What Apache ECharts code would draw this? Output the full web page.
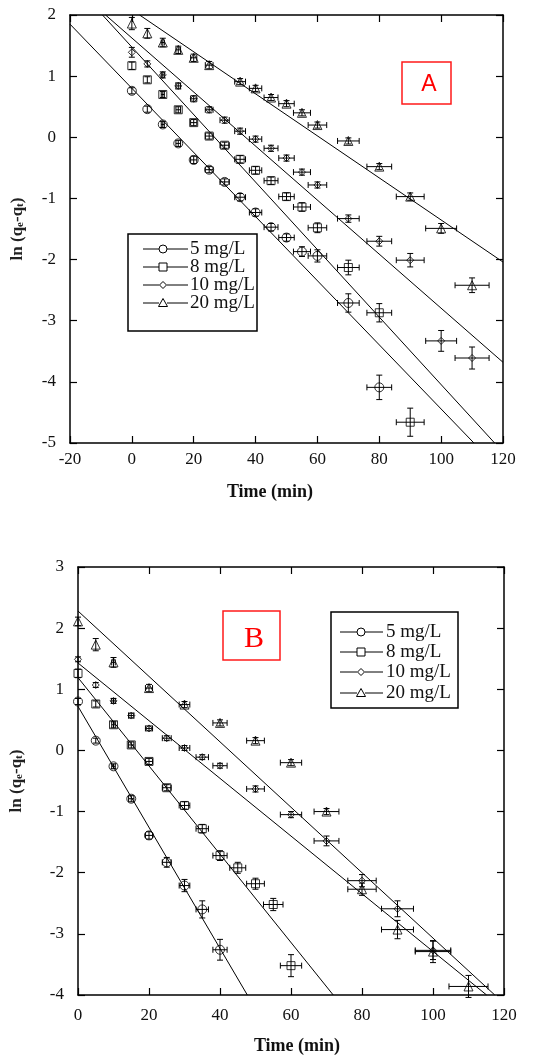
<!DOCTYPE html>
<html><head><meta charset="utf-8">
<script src="https://cdn.jsdelivr.net/npm/echarts@6/dist/echarts.min.js"></script>
<style>html,body{margin:0;padding:0;background:#fff}#c{width:545px;height:1056px}</style>
</head><body><div id="c"></div>
<script>
// ===== Panel A data (time in min, ln(qe-qt)) =====
const aT5  = [0,5,10,15,20,25,30,35,40,45,50,55,60,70,80];
const aY5  = [0.76,0.46,0.21,-0.10,-0.37,-0.53,-0.73,-0.98,-1.23,-1.47,-1.64,-1.87,-1.94,-2.71,-4.09];
const aEx5 = [0,0.25,0.5,0.75,1,1.25,1.5,1.75,2,2.25,2.5,2.75,3,3.5,4];
const aEy5 = [0.05,0.05,0.05,0.05,0.06,0.05,0.05,0.06,0.06,0.06,0.06,0.08,0.1,0.15,0.2];

const aT8  = [0,5,10,15,20,25,30,35,40,45,50,55,60,70,80,90];
const aY8  = [1.17,0.94,0.70,0.45,0.24,0.02,-0.13,-0.36,-0.54,-0.71,-0.97,-1.14,-1.48,-2.13,-2.87,-4.66];
const aEx8 = [0,0.25,0.5,0.75,1,1.25,1.5,1.75,2,2.25,2.5,2.75,3,3.5,4,4.5];
const aEy8 = [0.06,0.05,0.05,0.05,0.05,0.05,0.05,0.06,0.06,0.06,0.06,0.07,0.08,0.12,0.15,0.23];

const aT10  = [0,5,10,15,20,25,30,35,40,45,50,55,60,70,80,90,100,110];
const aY10  = [1.39,1.20,1.02,0.84,0.63,0.45,0.28,0.10,-0.03,-0.18,-0.34,-0.57,-0.78,-1.33,-1.70,-2.01,-3.33,-3.61];
const aEx10 = [0,0.25,0.5,0.75,1,1.25,1.5,1.75,2,2.25,2.5,2.75,3,3.5,4,4.5,5,5.5];
const aEy10 = [0.08,0.05,0.05,0.05,0.05,0.05,0.05,0.05,0.05,0.05,0.05,0.05,0.05,0.06,0.08,0.11,0.17,0.18];

const aT20  = [0,5,10,15,20,25,35,40,45,50,55,60,70,80,90,100,110];
const aY20  = [1.86,1.70,1.55,1.43,1.30,1.18,0.91,0.80,0.65,0.55,0.40,0.20,-0.06,-0.48,-0.97,-1.49,-2.42];
const aEx20 = [0,0.25,0.5,0.75,1,1.25,1.75,2,2.25,2.5,2.75,3,3.5,4,4.5,5,5.5];
const aEy20 = [0.1,0.08,0.07,0.06,0.06,0.06,0.05,0.05,0.05,0.05,0.05,0.05,0.05,0.05,0.06,0.08,0.12];

// fitted lines (end points in data units)
const aFit5  = [[-20,1.85],[110.6,-5]];
const aFit8  = [[-9.5,2],[117.3,-5]];
const aFit10 = [[-8.5,2],[120,-3.68]];
const aFit20 = [[2.5,2],[120,-2.04]];

// ===== Panel B data =====
const bT5  = [0,5,10,15,20,25,30,35,40];
const bY5  = [0.80,0.16,-0.26,-0.79,-1.39,-1.83,-2.21,-2.60,-3.26];
const bEx5 = [0,0.25,0.5,0.75,1,1.25,1.5,1.75,2];
const bEy5 = [0.05,0.04,0.04,0.05,0.06,0.08,0.1,0.14,0.17];

const bT8  = [0,5,10,15,20,25,30,35,40,45,50,55,60];
const bY8  = [1.26,0.76,0.42,0.09,-0.18,-0.61,-0.90,-1.28,-1.72,-1.92,-2.18,-2.52,-3.52];
const bEx8 = [0,0.25,0.5,0.75,1,1.25,1.5,1.75,2,2.25,2.5,2.75,3];
const bEy8 = [0.07,0.05,0.05,0.05,0.05,0.05,0.06,0.07,0.08,0.09,0.09,0.1,0.18];

const bT10  = [0,5,10,15,20,25,30,35,40,50,60,70,80,90,100];
const bY10  = [1.49,1.07,0.81,0.57,0.36,0.20,0.04,-0.11,-0.25,-0.63,-1.05,-1.48,-2.13,-2.59,-3.27];
const bEx10 = [0,0.25,0.5,0.75,1,1.25,1.5,1.75,2,2.5,3,3.5,4,4.5,5];
const bEy10 = [0.04,0.04,0.04,0.04,0.04,0.04,0.04,0.04,0.04,0.05,0.05,0.08,0.1,0.13,0.15];

const bT20  = [0,5,10,20,30,40,50,60,70,80,90,100,110];
const bY20  = [2.11,1.73,1.44,1.02,0.75,0.45,0.16,-0.20,-1.00,-2.27,-2.93,-3.29,-3.86];
const bEx20 = [0,0.25,0.5,1,1.5,2,2.5,3,3.5,4,4.5,5,5.5];
const bEy20 = [0.07,0.1,0.08,0.06,0.05,0.05,0.05,0.05,0.05,0.1,0.15,0.18,0.18];

const bFit5  = [[0,0.72],[47.7,-4]];
const bFit8  = [[0,1.19],[71.9,-4]];
const bFit10 = [[0,1.43],[115.1,-4]];
const bFit20 = [[0,2.28],[117.4,-4]];

const legendNames = ['5 mg/L','8 mg/L','10 mg/L','20 mg/L'];
const xTicksA = {min:-20, max:120, interval:20};
const xTicksB = {min:0, max:120, interval:20};
const yTicksA = {min:-5, max:2, interval:1};
const yTicksB = {min:-4, max:3, interval:1};

// ===== styling =====
const SERIF = '"Liberation Serif","Times New Roman",serif';
const INK = '#111';
const symbols = ['circle','rect','diamond','triangle'];
const symSizes = [9,8,7,9];

function renderErr(params, api){
  const t=api.value(0), v=api.value(1), ex=api.value(2), ey=api.value(3);
  const L=api.coord([t-ex,v]), R=api.coord([t+ex,v]);
  const U=api.coord([t,v+ey]), D=api.coord([t,v-ey]);
  const st={stroke:'#000', lineWidth:1};
  const cap=3, ch=[];
  if (R[0]-L[0] > 3){
    ch.push({type:'line',shape:{x1:L[0],y1:L[1],x2:R[0],y2:R[1]},style:st});
    ch.push({type:'line',shape:{x1:L[0],y1:L[1]-cap,x2:L[0],y2:L[1]+cap},style:st});
    ch.push({type:'line',shape:{x1:R[0],y1:R[1]-cap,x2:R[0],y2:R[1]+cap},style:st});
  }
  if (D[1]-U[1] > 3){
    ch.push({type:'line',shape:{x1:U[0],y1:U[1],x2:D[0],y2:D[1]},style:st});
    ch.push({type:'line',shape:{x1:U[0]-cap,y1:U[1],x2:U[0]+cap,y2:U[1]},style:st});
    ch.push({type:'line',shape:{x1:D[0]-cap,y1:D[1],x2:D[0]+cap,y2:D[1]},style:st});
  }
  return {type:'group', children:ch};
}

function groupSeries(ax, k, T, Y, EX, EY, fit){
  return [
    {type:'line', xAxisIndex:ax, yAxisIndex:ax, data:fit, showSymbol:false, silent:true,
     lineStyle:{color:'#000', width:1}, z:2, clip:true},
    {type:'custom', xAxisIndex:ax, yAxisIndex:ax, renderItem:renderErr, silent:true,
     data:T.map((t,i)=>[t,Y[i],EX[i],EY[i]]), encode:{x:0,y:1}, z:3},
    {type:'scatter', xAxisIndex:ax, yAxisIndex:ax, symbol:symbols[k], symbolSize:symSizes[k],
     data:T.map((t,i)=>[t,Y[i]]), silent:true,
     itemStyle:{color:'rgba(255,255,255,0)', borderColor:'#000', borderWidth:1}, z:4}
  ];
}

function xAx(grid, r, pos, labels, margin){
  return {type:'value', gridIndex:grid, position:pos, min:r.min, max:r.max, interval:r.interval,
    axisLine:{show:true, onZero:false, lineStyle:{color:'#000', width:1.5}},
    axisTick:{show:true, inside:true, length:7, lineStyle:{color:'#000', width:1.2}},
    axisLabel:{show:labels, color:INK, fontFamily:SERIF, fontSize:17, margin:margin},
    splitLine:{show:false}};
}
function yAx(grid, r, pos, labels, nameGap){
  const o = {type:'value', gridIndex:grid, position:pos, min:r.min, max:r.max, interval:r.interval,
    axisLine:{show:true, onZero:false, lineStyle:{color:'#000', width:1.5}},
    axisTick:{show:true, inside:true, length:7, lineStyle:{color:'#000', width:1.2}},
    axisLabel:{show:labels, color:INK, fontFamily:SERIF, fontSize:17, margin:14},
    splitLine:{show:false}};
  if (labels){
    o.name = '{a|ln (q}{s|e}{a|-q}{s|t}{a|)}';
    o.nameLocation = 'middle';
    o.nameRotate = 90;
    o.nameGap = nameGap;
    o.nameTextStyle = {rich:{
      a:{fontFamily:SERIF, fontSize:17, fontWeight:'bold', color:'#222'},
      s:{fontFamily:SERIF, fontSize:11, fontWeight:'bold', color:'#222', verticalAlign:'bottom', padding:[5,0,0,0]}
    }};
  }
  return o;
}

function legendGraphic(box, rowsY, lx1, lx2, mx, tx){
  const els = [{type:'rect', shape:{x:box[0], y:box[1], width:box[2], height:box[3]},
    style:{fill:'#fff', stroke:'#000', lineWidth:1.5}, z:50}];
  rowsY.forEach((y,k)=>{
    const r = 4;
    els.push({type:'line', shape:{x1:lx1,y1:y,x2:mx-r,y2:y}, style:{stroke:'#000',lineWidth:1}, z:51});
    els.push({type:'line', shape:{x1:mx+r,y1:y,x2:lx2,y2:y}, style:{stroke:'#000',lineWidth:1}, z:51});
    const ms = {fill:'#fff', stroke:'#000', lineWidth:1};
    if (k===0) els.push({type:'circle', shape:{cx:mx,cy:y,r:r}, style:ms, z:52});
    if (k===1) els.push({type:'rect', shape:{x:mx-r,y:y-r,width:2*r,height:2*r}, style:ms, z:52});
    if (k===2) els.push({type:'polygon', shape:{points:[[mx,y-3.5],[mx+3.5,y],[mx,y+3.5],[mx-3.5,y]]}, style:ms, z:52});
    if (k===3) els.push({type:'polygon', shape:{points:[[mx,y-4.5],[mx+4.5,y+3.5],[mx-4.5,y+3.5]]}, style:ms, z:52});
    els.push({type:'text', x:tx, y:y, style:{text:legendNames[k], fontFamily:SERIF, fontSize:19, fill:'#111',
      textVerticalAlign:'middle', verticalAlign:'middle'}, z:52});
  });
  return els;
}

const chart = echarts.init(document.getElementById('c'), null, {renderer:'canvas'});
const graphics = [].concat(
  legendGraphic([128,234,129,97],[249,267,285,303],143,188,163,190),
  legendGraphic([331,612,127,96],[632,652,672,693],340,383,361,386),
  [
    {type:'rect', shape:{x:402,y:62,width:49,height:42}, style:{fill:'#fff', stroke:'#ff1a1a', lineWidth:1.5}, z:50},
    {type:'text', x:429, y:85, style:{text:'A', fontFamily:'"Liberation Sans",Arial,sans-serif', fontSize:23,
      fill:'#ff0000', align:'center', verticalAlign:'middle'}, z:51},
    {type:'rect', shape:{x:223,y:611,width:57,height:49}, style:{fill:'#fff', stroke:'#ff1a1a', lineWidth:1.5}, z:50},
    {type:'text', x:254, y:639, style:{text:'B', fontFamily:SERIF, fontSize:30,
      fill:'#ff0000', align:'center', verticalAlign:'middle'}, z:51},
    {type:'text', x:270, y:492, style:{text:'Time (min)', fontFamily:SERIF, fontSize:18, fontWeight:'bold',
      fill:'#111', align:'center', verticalAlign:'middle'}, z:51},
    {type:'text', x:297, y:1046, style:{text:'Time (min)', fontFamily:SERIF, fontSize:18, fontWeight:'bold',
      fill:'#111', align:'center', verticalAlign:'middle'}, z:51}
  ]
);

chart.setOption({
  backgroundColor:'#fff',
  animation:false,
  grid:[
    {left:70, top:15, width:433, height:428},
    {left:78, top:567, width:426, height:428}
  ],
  xAxis:[
    xAx(0, xTicksA, 'bottom', true, 8),
    xAx(0, xTicksA, 'top', false, 8),
    xAx(1, xTicksB, 'bottom', true, 12),
    xAx(1, xTicksB, 'top', false, 8)
  ],
  yAxis:[
    yAx(0, yTicksA, 'left', true, 44),
    yAx(0, yTicksA, 'right', false, 0),
    yAx(1, yTicksB, 'left', true, 53),
    yAx(1, yTicksB, 'right', false, 0)
  ],
  series:[].concat(
    groupSeries(0,0,aT5,aY5,aEx5,aEy5,aFit5),
    groupSeries(0,1,aT8,aY8,aEx8,aEy8,aFit8),
    groupSeries(0,2,aT10,aY10,aEx10,aEy10,aFit10),
    groupSeries(0,3,aT20,aY20,aEx20,aEy20,aFit20),
    groupSeries(2,0,bT5,bY5,bEx5,bEy5,bFit5),
    groupSeries(2,1,bT8,bY8,bEx8,bEy8,bFit8),
    groupSeries(2,2,bT10,bY10,bEx10,bEy10,bFit10),
    groupSeries(2,3,bT20,bY20,bEx20,bEy20,bFit20)
  ),
  graphic:graphics
});
</script></body></html>
